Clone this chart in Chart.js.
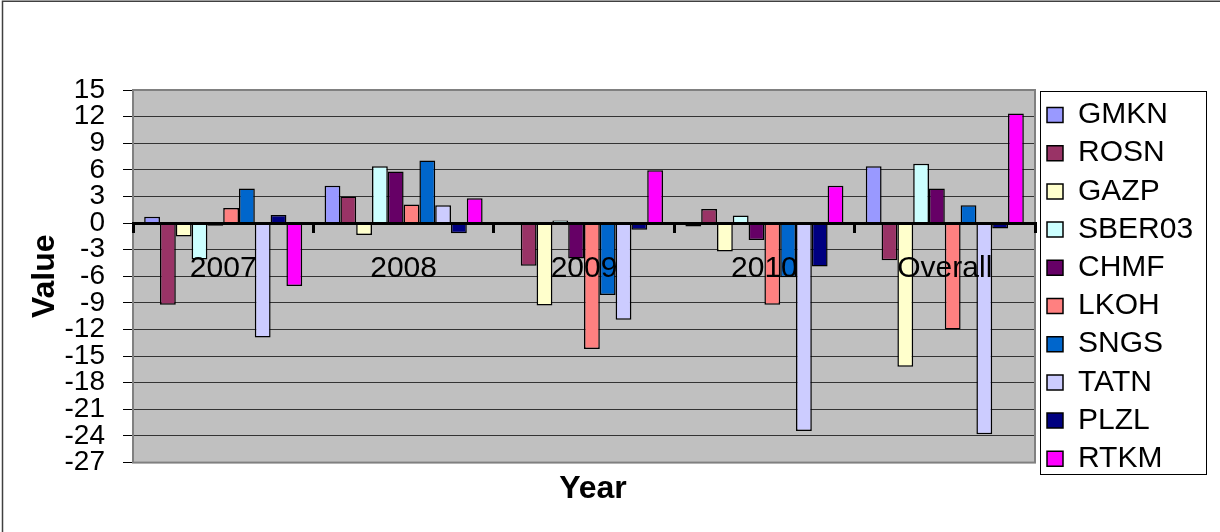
<!DOCTYPE html>
<html>
<head>
<meta charset="utf-8">
<title>Value by Year</title>
<script src="https://cdn.jsdelivr.net/npm/chart.js@4.4.1/dist/chart.umd.min.js"></script>
<style>
  html, body { margin: 0; padding: 0; background: #ffffff; }
  canvas { display: block; }
</style>
</head>
<body>
<canvas id="chart" width="1220" height="532"></canvas>
<script>
// Categories and tick labels
const years = ['2007', '2008', '2009', '2010', 'Overall'];
const yTickValues = [15, 12, 9, 6, 3, 0, -3, -6, -9, -12, -15, -18, -21, -24, -27];

// One array per ticker, values in the order of `years`
const gmkn   = [0.7,   4.2,  -0.2,  -0.4,   6.4];
const rosn   = [-9.2,  3.0,  -4.8,   1.6,  -4.2];
const gazp   = [-1.5, -1.35, -9.3,  -3.2, -16.2];
const sber03 = [-4.1,  6.4,   0.3,   0.85,  6.7];
const chmf   = [-0.3,  5.8,  -4.0,  -1.9,   3.9];
const lkoh   = [1.7,   2.1, -14.2,  -9.2, -12.0];
const sngs   = [3.9,   7.05, -8.1,  -6.1,   2.0];
const tatn   = [-12.9, 2.0, -10.9, -23.45, -23.8];
const plzl   = [0.9,  -1.15, -0.75, -4.9,  -0.6];
const rtkm   = [-7.1,  2.8,   5.95,  4.2,  12.35];

const seriesNames  = ['GMKN', 'ROSN', 'GAZP', 'SBER03', 'CHMF', 'LKOH', 'SNGS', 'TATN', 'PLZL', 'RTKM'];
const seriesValues = [gmkn, rosn, gazp, sber03, chmf, lkoh, sngs, tatn, plzl, rtkm];
const seriesColors = ['#9999FF', '#993366', '#FFFFCC', '#CCFFFF', '#660066',
                      '#FF8080', '#0066CC', '#CCCCFF', '#000080', '#FF00FF'];

const FONT = "'Liberation Sans', Arial, Helvetica, sans-serif";
Chart.defaults.font.family = FONT;
Chart.defaults.color = '#000000';

// Grey plot background, plot frame, outer frame and legend frame
const decor = {
  id: 'decor',
  afterLayout(chart) {
    const lg = chart.legend;
    if (lg) {
      lg.left = 1038.8;
      lg.right = 1206;
      lg.width = lg.right - lg.left;
      lg.top = 91.8;
      lg.height = lg.bottom - lg.top;
    }
  },
  beforeDraw(chart) {
    const { ctx, chartArea: a } = chart;
    ctx.save();
    ctx.fillStyle = '#ffffff';
    ctx.fillRect(0, 0, chart.width, chart.height);
    ctx.fillStyle = '#c0c0c0';
    ctx.fillRect(a.left, a.top, a.right - a.left, a.bottom - a.top);
    ctx.strokeStyle = '#404040';
    ctx.lineWidth = 1.5;
    ctx.beginPath();
    ctx.moveTo(2.5, chart.height);
    ctx.lineTo(2.5, 1.25);
    ctx.lineTo(chart.width, 1.25);
    ctx.stroke();
    ctx.restore();
  },
  beforeDatasetsDraw(chart) {
    const { ctx, chartArea: a } = chart;
    ctx.save();
    ctx.strokeStyle = '#808080';
    ctx.lineWidth = 2;
    ctx.strokeRect(a.left, a.top, a.right - a.left, a.bottom - a.top);
    ctx.restore();
  },
  afterDraw(chart) {
    const { ctx } = chart;
    ctx.save();
    ctx.strokeStyle = '#000000';
    ctx.lineWidth = 1;
    ctx.strokeRect(1040.5, 91.5, 166, 383);
    ctx.restore();
  }
};

new Chart(document.getElementById('chart'), {
  type: 'bar',
  data: {
    labels: years,
    datasets: seriesNames.map((name, i) => ({
      label: name,
      data: seriesValues[i],
      backgroundColor: seriesColors[i],
      borderColor: '#000000',
      borderWidth: 1.5,
      categoryPercentage: 0.876,
      barPercentage: 1.0
    }))
  },
  options: {
    responsive: false,
    animation: false,
    devicePixelRatio: 1,
    layout: { padding: { left: 10, right: 44, top: 90, bottom: 5 } },
    scales: {
      x: {
        position: { y: 0 },
        offset: true,
        grid: {
          display: true,
          drawOnChartArea: false,
          drawTicks: true,
          tickLength: 8,
          lineWidth: 3,
          color: '#000000',
          offset: true,
          z: 1
        },
        border: { display: true, color: '#000000', width: 3, z: 1 },
        ticks: {
          color: '#000000',
          font: { size: 30, family: FONT },
          padding: 20,
          maxRotation: 0,
          autoSkip: false,
          z: 1
        }
      },
      y: {
        min: -27,
        max: 15,
        afterBuildTicks: (scale) => { scale.ticks = yTickValues.map(v => ({ value: v })); },
        afterFit: (scale) => { scale.width = 123; },
        grid: {
          color: '#333333',
          lineWidth: 1,
          tickColor: '#000000',
          tickLength: 10,
          drawTicks: true
        },
        border: { display: false },
        ticks: {
          color: '#000000',
          font: { size: 28, family: FONT },
          padding: 18,
          autoSkip: false
        },
        title: {
          display: true,
          text: 'Value',
          color: '#000000',
          font: { size: 32, weight: 'bold', family: FONT },
          padding: { top: 16, bottom: 0 }
        }
      }
    },
    plugins: {
      legend: {
        display: true,
        position: 'right',
        align: 'start',
        maxWidth: 141,
        labels: {
          color: '#000000',
          font: { size: 30, family: FONT },
          boxWidth: 16,
          boxHeight: 15,
          padding: 8.2
        }
      },
      title: {
        display: true,
        position: 'bottom',
        text: 'Year',
        color: '#000000',
        font: { size: 32, weight: 'bold', family: FONT },
        padding: { top: 7, bottom: 19 }
      },
      tooltip: { enabled: false }
    }
  },
  plugins: [decor]
});
</script>
</body>
</html>
